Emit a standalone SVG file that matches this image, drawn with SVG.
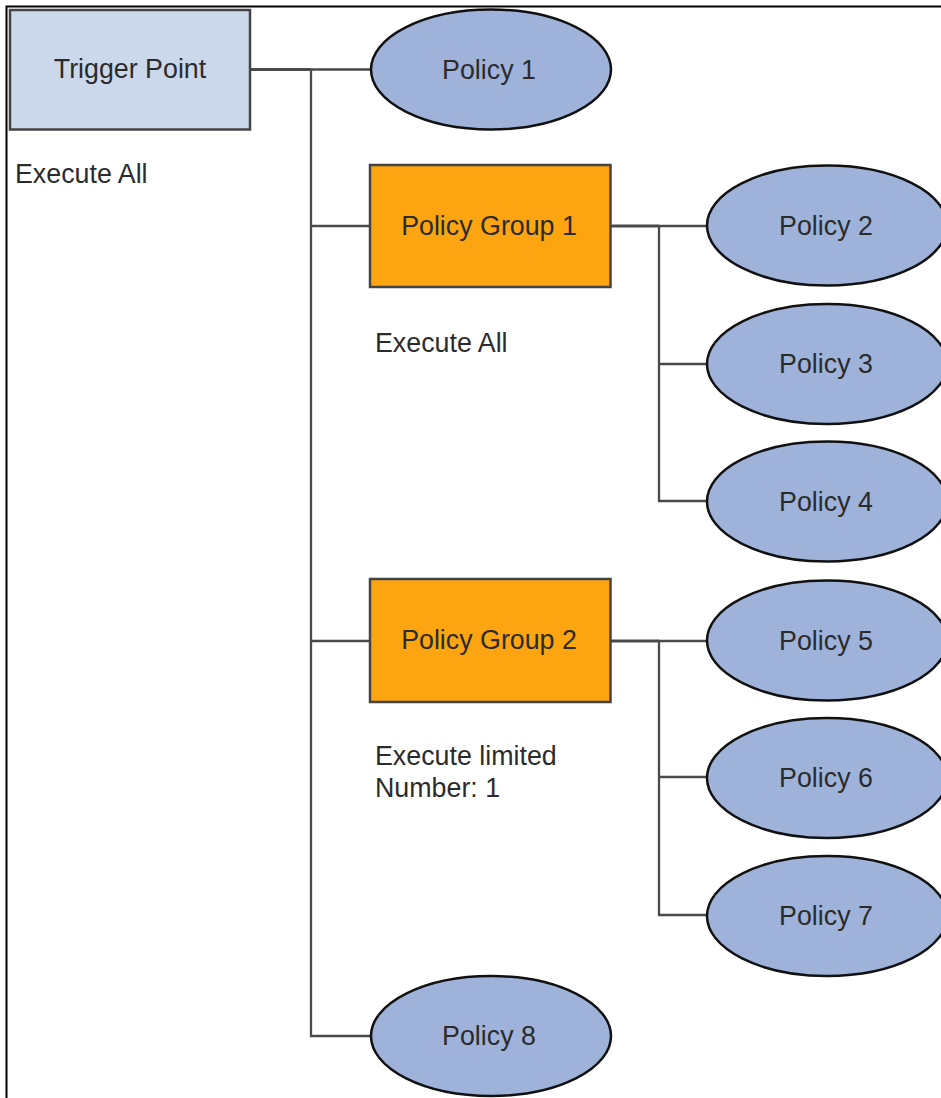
<svg xmlns="http://www.w3.org/2000/svg" width="941" height="1098" viewBox="0 0 941 1098">
<style>
text{font-family:"Liberation Sans",Arial,sans-serif;font-size:26.8px;fill:#2b2b2b}
.c{text-anchor:middle}
.pol{fill:#9fb3da;stroke:#111;stroke-width:2.5}
.grp{fill:#fca510;stroke:#444;stroke-width:2.5}
.trg{fill:#cbd8eb;stroke:#444;stroke-width:2.5}
.ln{fill:none;stroke:#4a4a4a;stroke-width:2.3;stroke-linecap:square}
.lt{fill:none;stroke:#4a4a4a;stroke-width:3.2}
</style>
<rect x="0" y="0" width="941" height="1098" fill="#fff"/>
<path d="M6.5 1098 V6.5 H941" fill="none" stroke="#000" stroke-width="2"/>
<g id="connectors">
<path class="lt" d="M250 69.5 H311"/>
<path class="ln" d="M311 69.5 V1036 M311 69.5 H371 M311 226 H370 M311 641 H370 M311 1036 H371"/>
<path class="lt" d="M611 226 H659"/>
<path class="ln" d="M659 226 V501 M659 226 H707 M659 364 H707 M659 501 H707"/>
<path class="lt" d="M611 641 H659"/>
<path class="ln" d="M659 641 V915 M659 641 H707 M659 777 H707 M659 915 H707"/>
</g>
<g id="trigger"><rect class="trg" x="10" y="10" width="240" height="119.5"/><text class="c" x="130" y="78">Trigger Point</text></g>
<g id="trigger-note"><text x="15" y="183">Execute All</text></g>
<g id="policy1"><ellipse class="pol" cx="491" cy="69.5" rx="120" ry="60"/><text class="c" x="489" y="78.5">Policy 1</text></g>
<g id="group1"><rect class="grp" x="370" y="165" width="240.5" height="122"/><text class="c" x="489" y="234.5">Policy Group 1</text></g>
<g id="group1-note"><text x="375" y="352">Execute All</text></g>
<g id="policy2"><ellipse class="pol" cx="827" cy="225.5" rx="120" ry="60"/><text class="c" x="826" y="234.5">Policy 2</text></g>
<g id="policy3"><ellipse class="pol" cx="827" cy="364" rx="120" ry="60"/><text class="c" x="826" y="373">Policy 3</text></g>
<g id="policy4"><ellipse class="pol" cx="827" cy="501.5" rx="120" ry="60"/><text class="c" x="826" y="510.5">Policy 4</text></g>
<g id="group2"><rect class="grp" x="370" y="579" width="240.5" height="123"/><text class="c" x="489" y="648.5">Policy Group 2</text></g>
<g id="group2-note"><text x="375" y="765">Execute limited</text><text x="375" y="797">Number: 1</text></g>
<g id="policy5"><ellipse class="pol" cx="827" cy="640.5" rx="120" ry="60"/><text class="c" x="826" y="649.5">Policy 5</text></g>
<g id="policy6"><ellipse class="pol" cx="827" cy="778" rx="120" ry="60"/><text class="c" x="826" y="787">Policy 6</text></g>
<g id="policy7"><ellipse class="pol" cx="827" cy="916" rx="120" ry="60"/><text class="c" x="826" y="925">Policy 7</text></g>
<g id="policy8"><ellipse class="pol" cx="491" cy="1036" rx="120" ry="60"/><text class="c" x="489" y="1045">Policy 8</text></g>
</svg>
